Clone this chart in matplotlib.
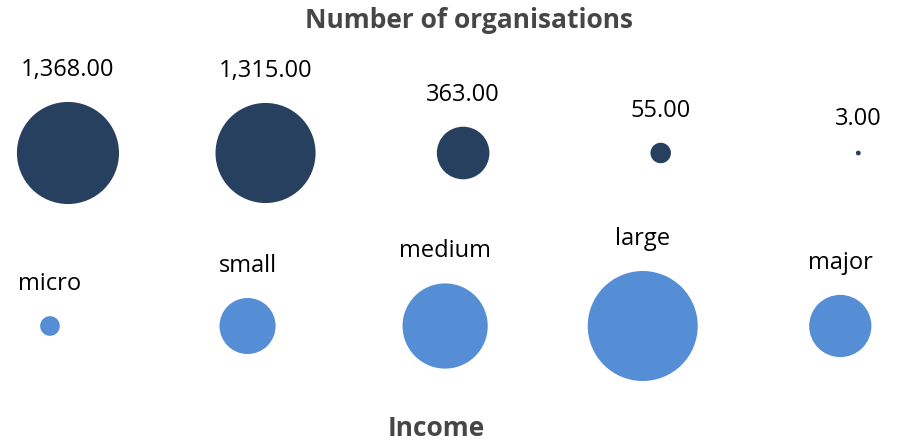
import matplotlib
matplotlib.use('Agg')
import matplotlib.pyplot as plt
import numpy as np

categories = ['micro', 'small', 'medium', 'large', 'major']
org_counts = [1368, 1315, 363, 55, 3]
income_values = [3.2, 26, 60, 100, 32]  # estimated relative income (bubble size)
org_labels = [f"{v:,.2f}" for v in org_counts]

FONT = 'Open Sans'
DPI = 100
fig = plt.figure(figsize=(8.97, 4.42), dpi=DPI)
ax = fig.add_axes([0, 0, 1, 1])
ax.set_xlim(-0.344, 4.196)
ax.set_ylim(-0.6705, 1.8844)
ax.axis('off')

x = np.arange(len(categories))

# pixel radius scale factors
k_top = 1.38
k_bot = 5.5
px2pt = 72.0 / DPI

def sizes(vals, k):
    r = k * np.sqrt(np.asarray(vals, dtype=float))
    return r, (2 * r * px2pt) ** 2

r_top, s_top = sizes(org_counts, k_top)
r_bot, s_bot = sizes(income_values, k_bot)

ax.scatter(x, np.ones_like(x), s=s_top, color='#27405F', linewidths=0, zorder=2)
xb = x - 0.091
ax.scatter(xb, np.zeros_like(x), s=s_bot, color='#558ED5', linewidths=0, zorder=2)

for xi, r, lab in zip(x, r_top, org_labels):
    ax.annotate(lab, (xi, 1), xytext=(0, (r + 32) * px2pt), textcoords='offset points',
                ha='center', va='center', fontsize=17, family=FONT, color='black')
for xi, r, lab in zip(xb, r_bot, categories):
    ax.annotate(lab, (xi, 0), xytext=(0, (r + 32) * px2pt), textcoords='offset points',
                ha='center', va='center', fontsize=17, family=FONT, color='black')

fig.text(469 / 897, 1 - 21 / 442, 'Number of organisations', ha='center', va='center',
         fontsize=19, fontweight='bold', family=FONT, color='#464646')
fig.text(436 / 897, 1 - 428 / 442, 'Income', ha='center', va='center',
         fontsize=19, fontweight='bold', family=FONT, color='#464646')

fig.savefig('out.png', dpi=DPI, facecolor='white')
